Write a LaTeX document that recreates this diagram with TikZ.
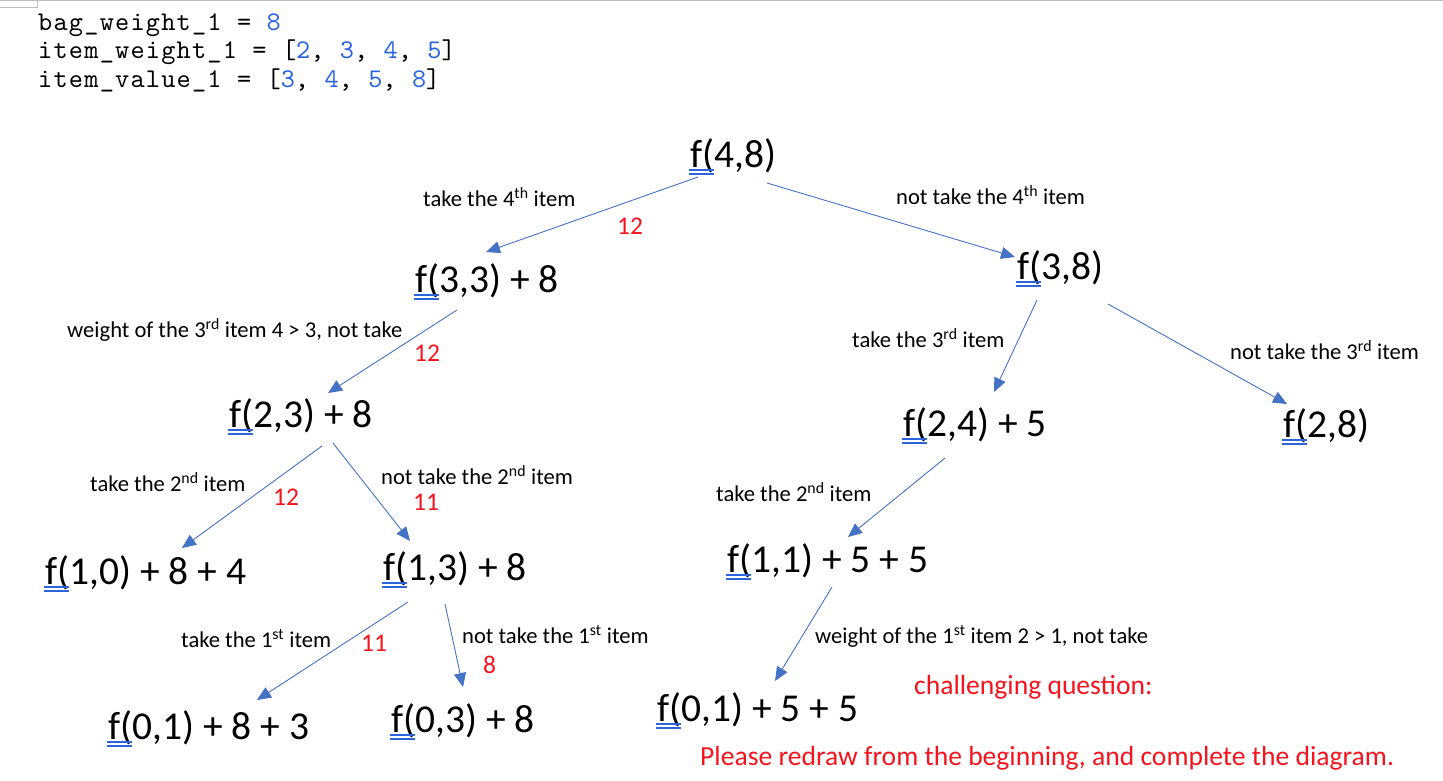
\documentclass[tikz,border=0pt]{standalone}
\usepackage{fontspec}
\setmainfont{Carlito}
\newfontfamily\codefont[LetterSpace=4.5]{lmmono10-regular.otf}
\usetikzlibrary{arrows.meta}
\definecolor{arrblue}{RGB}{68,114,196}
\definecolor{ulblue}{RGB}{45,100,215}
\definecolor{codeblue}{RGB}{40,100,225}
\definecolor{qred}{RGB}{245,20,30}
\definecolor{frame}{RGB}{190,190,190}
\tikzset{
  big/.style={inner sep=0pt, anchor=base west, font=\fontsize{39.5}{46}\selectfont},
  lbl/.style={inner sep=0pt, anchor=base west, font=\fontsize{22.6}{27}\selectfont},
  num/.style={inner sep=0pt, anchor=base west, text=qred, font=\fontsize{25.5}{30}\selectfont},
  qtext/.style={inner sep=0pt, anchor=base west, text=qred, font=\fontsize{27.6}{32}\selectfont},
  code/.style={inner sep=0pt, anchor=base west, font=\codefont\fontsize{27}{29}\selectfont},
  arr/.style={draw=arrblue, line width=0.9pt, -{Triangle[length=14pt,width=12pt]}},
  dul/.style={draw=ulblue, line width=1.2pt}
}
\newcommand\fdul[1]{\draw[dul] ([shift={(-1,3)}]#1.base west) -- ++(25,0) ([shift={(-1,7)}]#1.base west) -- ++(25,0);}
\begin{document}
\begin{tikzpicture}[x=1pt,y=-1pt]
\useasboundingbox (0,0) rectangle (1443,780);
% window frame
\draw[frame, line width=1pt] (0,0.5) -- (1443,0.5);
\draw[frame, line width=0.8pt] (0,7) -- (37,7) -- (37,0);
% code
\node[code] (c1) at (38,30) {bag\_weight\_1 = \textcolor{codeblue}{8}};
\node[code] (c2) at (38,58.5) {item\_weight\_1 = [\textcolor{codeblue}{2}, \textcolor{codeblue}{3}, \textcolor{codeblue}{4}, \textcolor{codeblue}{5}]};
\node[code] (c3) at (38,87) {item\_value\_1 = [\textcolor{codeblue}{3}, \textcolor{codeblue}{4}, \textcolor{codeblue}{5}, \textcolor{codeblue}{8}]};
% tree nodes
\node[big] (n48) at (690,167) {f(4,8)};
\node[big] (n33) at (415,292) {f(3,3) + 8};
\node[big] (n38) at (1017,279) {f(3,8)};
\node[big] (n23) at (229,427) {f(2,3) + 8};
\node[big] (n24) at (903,436) {f(2,4) + 5};
\node[big] (n28) at (1283,437) {f(2,8)};
\node[big] (n10) at (45,584) {f(1,0) + 8 + 4};
\node[big] (n13) at (383,580) {f(1,3) + 8};
\node[big] (n11) at (727,572) {f(1,1) + 5 + 5};
\node[big] (n01a) at (108,739) {f(0,1) + 8 + 3};
\node[big] (n03) at (391,732) {f(0,3) + 8};
\node[big] (n01b) at (657,721) {f(0,1) + 5 + 5};
\foreach \n in {n48,n33,n38,n23,n24,n28,n10,n13,n11,n01a,n03,n01b} {\fdul{\n}}
% connectors
\draw[arr] ([shift={(8,10)}]n48.base west) -- ([shift={(71,-40)}]n33.base west);
\draw[arr] ([shift={(77,16)}]n48.base west) -- ([shift={(-2,-22)}]n38.base west);
\draw[arr] ([shift={(42,18)}]n33.base west) -- ([shift={(99,-34)}]n23.base west);
\draw[arr] ([shift={(20,21)}]n38.base west) -- ([shift={(91,-44)}]n24.base west);
\draw[arr] ([shift={(91,25)}]n38.base west) -- ([shift={(4,-33)}]n28.base west);
\draw[arr] ([shift={(93,19)}]n23.base west) -- ([shift={(137,-36)}]n10.base west);
\draw[arr] ([shift={(104,16)}]n23.base west) -- ([shift={(27,-39)}]n13.base west);
\draw[arr] ([shift={(42,22)}]n24.base west) -- ([shift={(121,-35)}]n11.base west);
\draw[arr] ([shift={(25,22)}]n13.base west) -- ([shift={(149,-39)}]n01a.base west);
\draw[arr] ([shift={(62,24)}]n13.base west) -- ([shift={(72,-45)}]n03.base west);
\draw[arr] ([shift={(105,15)}]n11.base west) -- ([shift={(118,-40)}]n01b.base west);
% labels
\node[lbl] (l1) at (423,206) {take the 4\textsuperscript{th} item};
\node[num] (v1) at (617,234) {12};
\node[lbl] (l2) at (896,204) {not take the 4\textsuperscript{th} item};
\node[lbl] (l3) at (67,337) {weight of the 3\textsuperscript{rd} item 4 > 3, not take};
\node[num] (v2) at (414,361) {12};
\node[lbl] (l4) at (852,347) {take the 3\textsuperscript{rd} item};
\node[lbl] (l5) at (1230,359) {not take the 3\textsuperscript{rd} item};
\node[lbl] (l6) at (90,491) {take the 2\textsuperscript{nd} item};
\node[num] (v3) at (273,505) {12};
\node[lbl] (l7) at (381,484) {not take the 2\textsuperscript{nd} item};
\node[num] (v4) at (413,510) {11};
\node[lbl] (l8) at (716,501) {take the 2\textsuperscript{nd} item};
\node[lbl] (l9) at (181,647) {take the 1\textsuperscript{st} item};
\node[num] (v5) at (361,651) {11};
\node[lbl] (l10) at (462,643) {not take the 1\textsuperscript{st} item};
\node[num] (v6) at (483,673) {8};
\node[lbl] (l11) at (815,643) {weight of the 1\textsuperscript{st} item 2 > 1, not take};
\node[qtext] (q1) at (914,694) {challenging question:};
\node[qtext] (q2) at (700,765) {Please redraw from the beginning, and complete the diagram.};
\end{tikzpicture}
\end{document}
